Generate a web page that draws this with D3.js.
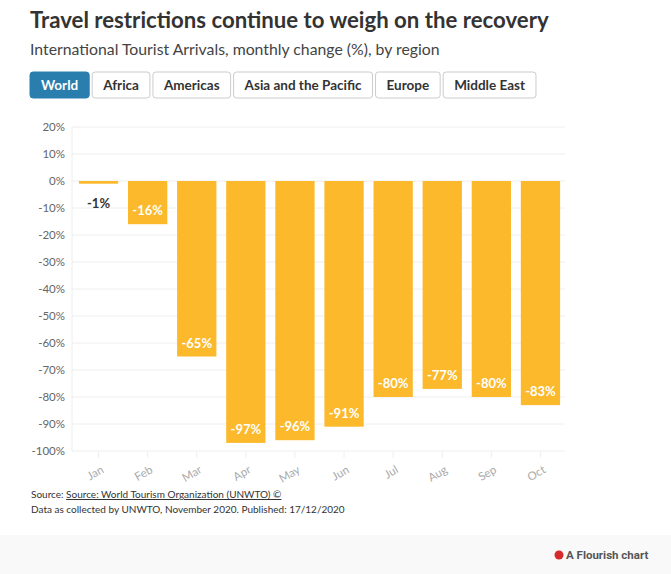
<!DOCTYPE html>
<html lang="en">
<head>
<meta charset="utf-8">
<script src="https://d3js.org/d3.v7.min.js"></script>
<style>
  body { margin:0; background:#fff; font-family: Lato, "Open Sans", sans-serif; }
</style>
</head>
<body>
<svg id="chart" width="671" height="574"></svg>
<script>
var months = ["Jan","Feb","Mar","Apr","May","Jun","Jul","Aug","Sep","Oct"];
var values = [-1,-16,-65,-97,-96,-91,-80,-77,-80,-83];
var yTicks = [20,10,0,-10,-20,-30,-40,-50,-60,-70,-80,-90,-100];
var regions = ["World","Africa","Americas","Asia and the Pacific","Europe","Middle East"];

var svg = d3.select("#chart");
svg.append("rect").attr("x",0).attr("y",535).attr("width",671).attr("height",39).attr("fill","#f9f9f9");

svg.append("text").attr("x",30).attr("y",28).attr("font-size",22.2).attr("font-weight",700)
  .attr("fill","#333").text("Travel restrictions continue to weigh on the recovery");
svg.append("text").attr("x",30).attr("y",55).attr("font-size",15.8).attr("fill","#444")
  .text("International Tourist Arrivals, monthly change (%), by region");

// region buttons
var bx = 30;
regions.forEach(function(r, i) {
  var t = svg.append("text").attr("y",90).attr("font-size",13.5).attr("font-weight",700)
    .attr("fill", i == 0 ? "#fff" : "#333").text(r);
  var w = t.node().getComputedTextLength() + 22;
  svg.insert("rect","text").attr("x",bx).attr("y",72).attr("width",w).attr("height",26).attr("rx",3)
    .attr("fill", i == 0 ? "#2a7eae" : "#fff").attr("stroke", i == 0 ? "#2a7eae" : "#ccc");
  t.attr("x", bx + w/2).attr("text-anchor","middle");
  bx += w + 3;
});

var x = d3.scaleBand().domain(months).range([74,565]).paddingInner(0.2).paddingOuter(0.1);
var y = d3.scaleLinear().domain([-100,20]).range([451,127]);

var g = svg.append("g");
g.selectAll(".grid").data(yTicks).enter().append("line")
  .attr("x1",72).attr("x2",565).attr("y1",function(d){return y(d);}).attr("y2",function(d){return y(d);})
  .attr("stroke","#eee");
g.append("line").attr("x1",72).attr("x2",72).attr("y1",y(20)).attr("y2",y(-100)).attr("stroke","#eee");
g.selectAll(".yl").data(yTicks).enter().append("text")
  .attr("x",65).attr("y",function(d){return y(d)+4;}).attr("text-anchor","end")
  .attr("font-size",11.5).attr("fill","#666").text(function(d){return d + "%";});

g.selectAll(".bar").data(values).enter().append("rect")
  .attr("x",function(d,i){return x(months[i]);}).attr("width",x.bandwidth())
  .attr("y",y(0)).attr("height",function(d){return y(d) - y(0);}).attr("fill","#fbb92b");

g.selectAll(".lab").data(values).enter().append("text")
  .attr("x",function(d,i){return x(months[i]) + x.bandwidth()/2;})
  .attr("y",function(d){return Math.abs(d) < 10 ? y(d) + 24 : y(d) - 9;})
  .attr("text-anchor","middle").attr("font-size",13).attr("font-weight",700)
  .attr("fill",function(d){return Math.abs(d) < 10 ? "#333" : "#fff";})
  .text(function(d){return d + "%";});

g.selectAll(".xt").data(months).enter().append("line")
  .attr("x1",function(d){return x(d)+x.bandwidth()/2;}).attr("x2",function(d){return x(d)+x.bandwidth()/2;})
  .attr("y1",452).attr("y2",458).attr("stroke","#eee");
g.selectAll(".xl").data(months).enter().append("text")
  .attr("transform",function(d){return "translate(" + (x(d)+x.bandwidth()/2+6) + ",472) rotate(-30)";})
  .attr("text-anchor","end").attr("font-size",11.5).attr("fill","#aaa").text(function(d){return d;});

var src = svg.append("text").attr("x",31).attr("y",498).attr("font-size",10).attr("fill","#333");
src.append("tspan").text("Source: ");
src.append("tspan").attr("text-decoration","underline").text("Source: World Tourism Organization (UNWTO) ©");
svg.append("text").attr("x",31).attr("y",513).attr("font-size",10).attr("fill","#333")
  .text("Data as collected by UNWTO, November 2020. Published: 17/12/2020");

svg.append("circle").attr("cx",559).attr("cy",555).attr("r",4.5).attr("fill","#d62b2b");
svg.append("text").attr("x",566).attr("y",559).attr("font-size",11.5).attr("font-weight",700)
  .attr("fill","#555").attr("font-family","Roboto, sans-serif").text("A Flourish chart");
</script>
</body>
</html>
